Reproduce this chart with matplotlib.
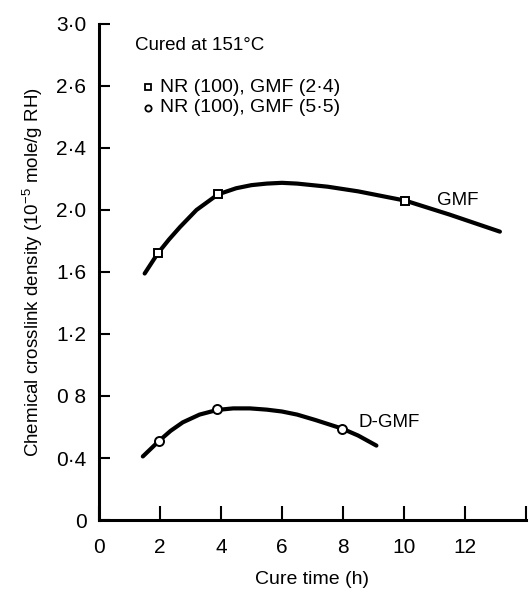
import matplotlib
matplotlib.use("Agg")
import matplotlib.pyplot as plt

# Data
gmf_curve_x = [1.5, 1.93, 2.3, 2.66, 3.2, 3.9, 4.5, 5.0, 5.5, 6.0, 6.5, 7.5, 8.5, 10.05, 11.5, 13.15]
gmf_curve_y = [1.59, 1.72, 1.81, 1.89, 2.0, 2.10, 2.14, 2.16, 2.17, 2.175, 2.17, 2.15, 2.12, 2.06, 1.97, 1.86]
gmf_pts_x = [1.93, 3.9, 10.05]
gmf_pts_y = [1.72, 2.10, 2.06]

dgmf_curve_x = [1.44, 1.97, 2.35, 2.75, 3.3, 3.88, 4.4, 4.95, 5.5, 6.0, 6.5, 7.1, 7.97, 8.5, 9.1]
dgmf_curve_y = [0.41, 0.51, 0.575, 0.63, 0.68, 0.71, 0.72, 0.72, 0.712, 0.70, 0.68, 0.645, 0.59, 0.545, 0.48]
dgmf_pts_x = [1.97, 3.88, 7.97]
dgmf_pts_y = [0.51, 0.716, 0.59]

yticks = [0, 0.4, 0.8, 1.2, 1.6, 2.0, 2.4, 2.8, 3.2]
ytick_labels = ["0", "0·4", "0 8", "1·2", "1·6", "2·0", "2·4", "2·6", "3·0"]
xticks = [0, 2, 4, 6, 8, 10, 12, 14]
xtick_labels = ["0", "2", "4", "6", "8", "10", "12", ""]

fam = ["Liberation Sans", "DejaVu Sans"]
plt.rcParams["font.family"] = fam
plt.rcParams["mathtext.fontset"] = "custom"
plt.rcParams["mathtext.rm"] = "Liberation Sans"
plt.rcParams["mathtext.it"] = "Liberation Sans"
plt.rcParams["mathtext.default"] = "regular"

fig = plt.figure(figsize=(5.29, 5.92), dpi=100)
ax = fig.add_axes([0.187, 0.1216, 0.807, 0.838])

ax.plot(gmf_curve_x, gmf_curve_y, color="black", lw=3.0, solid_capstyle="round", solid_joinstyle="round")
ax.plot(dgmf_curve_x, dgmf_curve_y, color="black", lw=3.0, solid_capstyle="round", solid_joinstyle="round")
ax.plot(gmf_pts_x, gmf_pts_y, ls="none", marker="s", ms=5.5, mfc="white", mec="black", mew=1.4)
ax.plot(dgmf_pts_x, dgmf_pts_y, ls="none", marker="o", ms=6.5, mfc="white", mec="black", mew=1.4)

ax.set_xlim(0, 14)
ax.set_ylim(0, 3.2)
ax.set_xticks(xticks)
ax.set_xticklabels(xtick_labels)
ax.set_yticks(yticks)
ax.set_yticklabels(ytick_labels)
ax.tick_params(axis="both", direction="in", labelsize=15, width=1.5, color="black")
ax.tick_params(axis="y", length=8, pad=9)
ax.tick_params(axis="x", length=10, pad=13)
for s in ["top", "right"]:
    ax.spines[s].set_visible(False)
for s in ["left", "bottom"]:
    ax.spines[s].set_linewidth(2.2)

ax.set_xlabel("Cure time (h)", fontsize=14, labelpad=10)
ax.set_ylabel("Chemical crosslink density (10$^{-5}$ mole/g RH)", fontsize=13.5, labelpad=8)

ax.text(1.18, 3.06, "Cured at 151°C", fontsize=13.5, va="center", ha="left")
ax.plot([1.6], [2.79], ls="none", marker="s", ms=4.5, mfc="white", mec="black", mew=1.3, clip_on=False)
ax.text(2.0, 2.79, "NR (100), GMF (2·4)", fontsize=14, va="center", ha="left")
ax.plot([1.6], [2.66], ls="none", marker="o", ms=4.5, mfc="white", mec="black", mew=1.3, clip_on=False)
ax.text(2.0, 2.66, "NR (100), GMF (5·5)", fontsize=14, va="center", ha="left")

ax.text(11.08, 2.06, "GMF", fontsize=13.5, va="center", ha="left")
ax.text(8.5, 0.63, "D-GMF", fontsize=13.5, va="center", ha="left")

fig.savefig("out.png", dpi=100)
